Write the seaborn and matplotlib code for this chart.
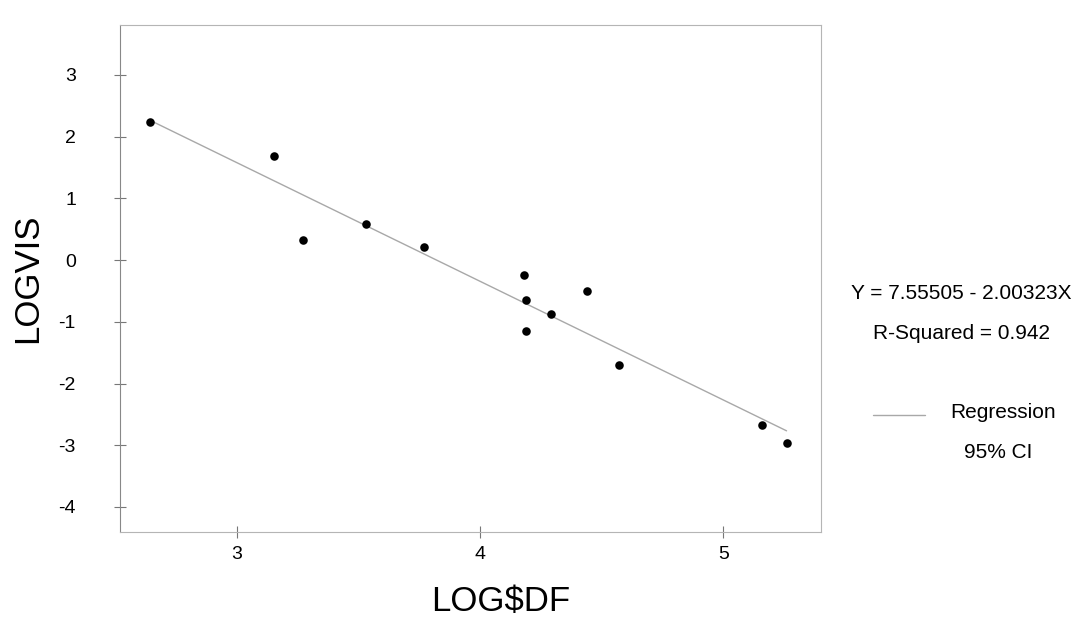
import matplotlib
matplotlib.use("Agg")
import matplotlib.pyplot as plt
from matplotlib.lines import Line2D
import pandas as pd
import seaborn as sns

# values
log_sdf = [2.64, 3.15, 3.27, 3.53, 3.77, 4.18, 4.19, 4.19, 4.29, 4.44, 4.57, 5.16, 5.26]
log_vis = [2.24, 1.69, 0.32, 0.58, 0.21, -0.24, -0.65, -1.15, -0.88, -0.50, -1.70, -2.67, -2.97]
x_ticks = [3, 4, 5]
y_ticks = [3, 2, 1, 0, -1, -2, -3, -4]
equation = "Y = 7.55505 - 2.00323X"
r_squared = "R-Squared = 0.942"
legend_labels = ["Regression", "95% CI"]

df = pd.DataFrame({"LOG$DF": log_sdf, "LOGVIS": log_vis})

sns.set_style("white")
plt.rcParams["font.family"] = ["Liberation Sans", "DejaVu Sans"]
plt.rcParams.update(
    {
        "axes.unicode_minus": False,
        "text.color": "black",
        "axes.labelcolor": "black",
        "xtick.labelcolor": "black",
        "ytick.labelcolor": "black",
    }
)

LINE_GREY = "#a8a8a8"

fig = plt.figure(figsize=(10.84, 6.36), dpi=100)
ax = fig.add_axes([0.111, 0.164, 0.646, 0.797])

sns.regplot(
    data=df,
    x="LOG$DF",
    y="LOGVIS",
    ci=None,
    truncate=True,
    ax=ax,
    scatter_kws=dict(s=38, color="black", alpha=1.0, linewidths=0, zorder=3),
    line_kws=dict(color=LINE_GREY, linewidth=1.0),
)

ax.set_xlim(2.52, 5.40)
ax.set_ylim(-4.40, 3.81)
ax.set_xticks(x_ticks)
ax.set_yticks(y_ticks)
ax.set_xlabel("")
ax.set_ylabel("LOGVIS", fontsize=25, labelpad=10)
ax.text(0.543, -0.105, "LOG$DF", transform=ax.transAxes, ha="center", va="top", fontsize=25)
ax.tick_params(
    axis="both", labelsize=14, direction="inout", length=8, width=0.8,
    color="#777777", bottom=True, left=True,
)
ax.tick_params(axis="y", pad=28)
ax.tick_params(axis="x", pad=6)
for spine in ax.spines.values():
    spine.set_color("#b5b5b5")
    spine.set_linewidth(0.8)
ax.spines["left"].set_color("#888888")

fig.text(0.887, 0.539, equation, ha="center", va="center", fontsize=15)
fig.text(0.887, 0.475, r_squared, ha="center", va="center", fontsize=15)

# legend block: grey sample line, labels centred under each other
fig.add_artist(Line2D([873 / 1084, 925 / 1084], [1 - 415 / 636, 1 - 415 / 636],
                      transform=fig.transFigure, color=LINE_GREY, linewidth=1.0))
fig.text(0.925, 1 - 413 / 636, legend_labels[0], ha="center", va="center", fontsize=15)
fig.text(0.921, 1 - 453 / 636, legend_labels[1], ha="center", va="center", fontsize=15)

fig.savefig("out.png", dpi=100, facecolor="white")
